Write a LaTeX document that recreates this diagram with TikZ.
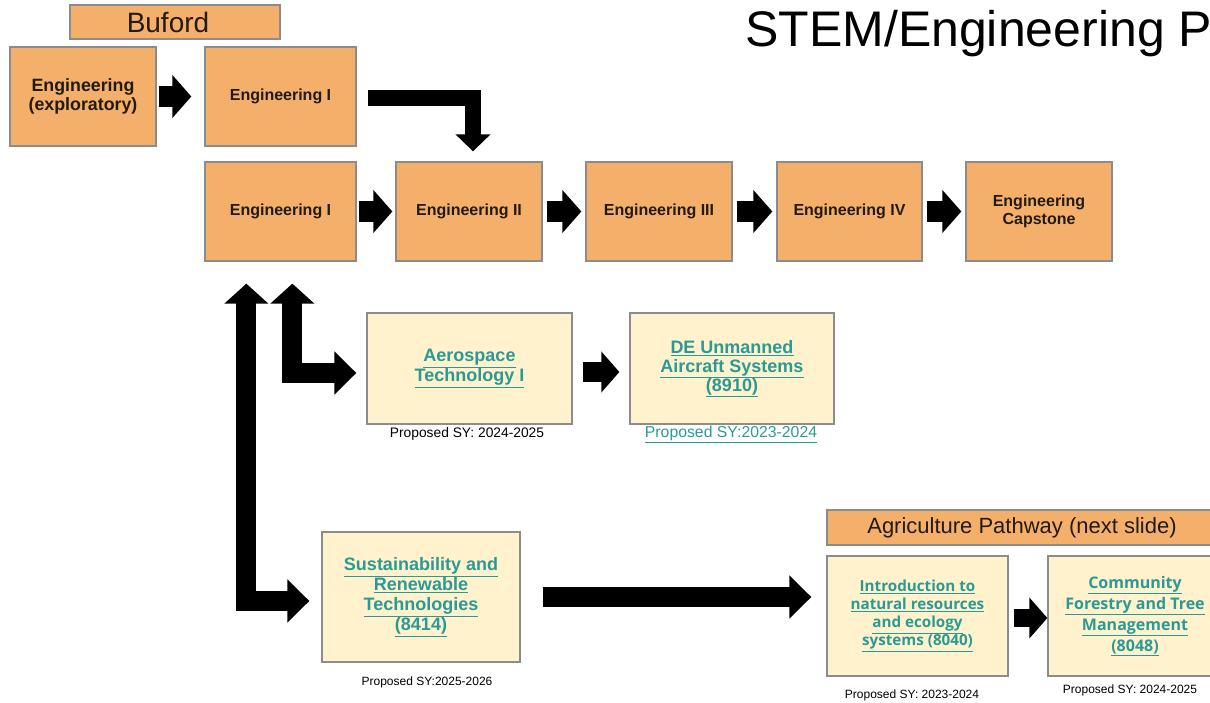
\documentclass[tikz,border=0pt]{standalone}
\usepackage{fontspec}
\setmainfont{Liberation Sans}
\newfontfamily\osans{Open Sans}
\usetikzlibrary{arrows.meta,calc}
\definecolor{org}{HTML}{F4B06A}
\definecolor{cream}{HTML}{FFF2CC}
\definecolor{bord}{HTML}{8C8C8C}
\definecolor{teal2}{HTML}{2A9A96}
\definecolor{ink}{HTML}{231A12}
\newcommand\lk[1]{\underline{#1}}
\newcommand\fsz[2]{\fontsize{#1}{#2}\selectfont}
\begin{document}
\begin{tikzpicture}[x=1pt,y=-1pt,
  obox/.style={draw=bord,line width=1.3pt,fill=org,minimum width=146pt,minimum height=99pt,inner sep=0pt,align=center,text=ink,font=\bfseries\fsz{16}{18}},
  cbox/.style={draw=bord,line width=1.3pt,fill=cream,inner sep=0pt,align=center,text=teal2,font=\bfseries\fsz{18}{20}},
  hbox/.style={draw=bord,line width=1.3pt,fill=org,inner sep=0pt,text=ink},
  note/.style={inner sep=0pt,font=\fsz{12}{14}},
  blk/.style={line width=21pt,-{Triangle[width=42pt,length=19pt]}},
  bent/.style={line width=16pt,line join=miter,-{Triangle[width=34pt,length=17pt]}},
  updbl/.style={line width=20pt,line join=miter,{Triangle[width=43pt,length=20pt]}-{Triangle[width=42pt,length=22pt]}},
  midblk/.style={line width=20pt,-{Triangle[width=40pt,length=18pt]}},
  longblk/.style={line width=20pt,-{Triangle[width=42pt,length=22pt]}},
  smallblk/.style={line width=18pt,-{Triangle[width=40pt,length=18pt]}}
]
\useasboundingbox (0,0) rectangle (1210,703);
\clip (0,0) rectangle (1210,703);

% title
\node[anchor=base west,inner sep=0pt,font=\fsz{50}{56}] (title) at (745,47) {STEM/Engineering P};

% orange header boxes
\node[hbox,minimum width=210pt,minimum height=34pt,font=\fsz{28}{30}] (buford) at (175,22) {Buford\hspace*{14pt}};
\node[hbox,minimum width=390pt,minimum height=35pt,font=\fsz{22}{24}] (agri) at (1022,527.5) {Agriculture Pathway (next slide)};

% orange course boxes
\node[obox,font=\bfseries\fsz{17.8}{19.5}] (exp) at (83,96.5) {Engineering\\(exploratory)};
\node[obox,minimum width=151pt] (e1a) at (280.5,96.5) {Engineering I};
\node[obox,minimum width=151pt] (e1b) at (280.5,211.5) {Engineering I};
\node[obox] (e2) at (469,211.5) {Engineering II};
\node[obox] (e3) at (659,211.5) {Engineering III};
\node[obox,minimum width=145pt] (e4) at (849.5,211.5) {Engineering IV};
\node[obox] (cap) at (1039,211.5) {Engineering\\Capstone};

% cream boxes
\node[cbox,minimum width=205pt,minimum height=111pt] (aero) at (469.5,368.5) {\lk{Aerospace}\\\lk{Technology I}};
\node[cbox,minimum width=204pt,minimum height=111pt,font=\bfseries\fsz{18}{19}] (de) at (732,368.5) {\lk{DE Unmanned}\\\lk{Aircraft Systems}\\\lk{(8910)}};
\node[cbox,minimum width=198pt,minimum height=130pt] (sus) at (421,597) {\lk{Sustainability and}\\\lk{Renewable}\\\lk{Technologies}\\\lk{(8414)}};
\node[cbox,minimum width=181pt,minimum height=120pt,font=\osans\bfseries\fsz{15.2}{18}] (intro) at (917.5,616) {\lk{Introduction to}\\\lk{natural resources}\\\lk{and ecology}\\\lk{systems (8040)}};
\node[cbox,minimum width=174pt,minimum height=120pt,font=\osans\bfseries\fsz{16}{21}] (com) at (1135,616) {\lk{Community}\\\lk{Forestry and Tree}\\\lk{Management}\\\lk{(8048)}};

% notes
\node[note,font=\fsz{13.8}{15}] (n1) at (467,434) {Proposed SY: 2024-2025};
\node[note,font=\fsz{15.8}{17},text=teal2] (n2) at (731,434) {\lk{Proposed SY:2023-2024}};
\node[note] (n3) at (427,682) {Proposed SY:2025-2026};
\node[note] (n4) at (912,695) {Proposed SY: 2023-2024};
\node[note] (n5) at (1130,690) {Proposed SY: 2024-2025};

% block arrows
\draw[blk] ([xshift=2pt]exp.east) -- ([xshift=-13pt]e1a.west);
\draw[blk] ([xshift=2pt]e1b.east) -- ([xshift=-3pt]e2.west);
\draw[blk] ([xshift=4pt]e2.east) -- ([xshift=-4pt]e3.west);
\draw[blk] ([xshift=4pt]e3.east) -- ([xshift=-4pt]e4.west);
\draw[blk] ([xshift=4pt]e4.east) -- ([xshift=-4pt]cap.west);
\draw[bent] ($(e1a.east)+(11,1.5)$) -| ($(e2.north)+(4,-10)$);
\draw[updbl] ($(e1b.south west)+(42,22)$) |- ($(sus.west)+(-12,4)$);
\draw[updbl] ($(e1b.south west)+(88,22)$) |- ($(aero.west)+(-10,4.5)$);
\draw[midblk] ($(aero.east)+(10,3.5)$) -- ($(de.west)+(-10,3.5)$);
\draw[longblk] ($(sus.east)+(22,0)$) -- ($(intro.west)+(-15,-19)$);
\draw[smallblk] ($(intro.east)+(5,2)$) -- ($(com.west)+(0,2)$);
\end{tikzpicture}
\end{document}
